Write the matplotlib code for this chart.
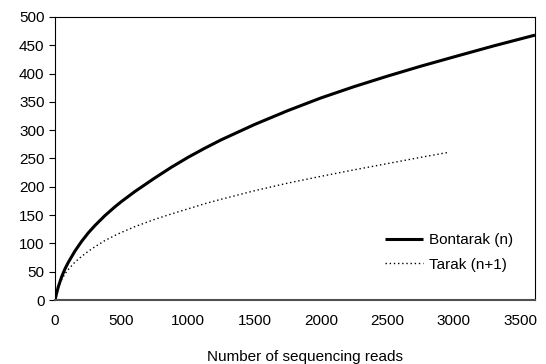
import matplotlib
matplotlib.use('Agg')
import matplotlib.pyplot as plt

bont_x = [0, 10, 25, 50, 75, 100, 150, 200, 250, 300, 375, 450, 500, 600, 750, 875,
          1000, 1125, 1250, 1500, 1750, 2000, 2250, 2500, 2750, 3000, 3300, 3610]
bont_y = [0, 10, 23.5, 41, 55, 66.5, 86.5, 103.5, 118.5, 131.5, 149, 164.5, 174, 191.5, 215.5, 234.5,
          252, 268, 283, 310, 334.5, 357, 377, 395.5, 413, 429.5, 449, 468]
tarak_x = [0, 10, 25, 50, 75, 100, 150, 200, 250, 300, 375, 450, 500, 600, 750, 875,
           1000, 1125, 1250, 1500, 1750, 2000, 2250, 2500, 2750, 2950]
tarak_y = [0, 10, 22, 36, 46, 54, 67, 77, 86, 94, 105, 114, 119.5, 129.5, 142.5, 152,
           161, 170, 178, 193, 206.5, 218.5, 230, 241, 252, 260.5]
labels = ["Bontarak (n)", "Tarak (n+1)"]
xticks = list(range(0, 3501, 500))
yticks = list(range(0, 501, 50))

plt.rcParams['font.family'] = ['Liberation Sans', 'DejaVu Sans']
plt.rcParams['font.size'] = 11

fig = plt.figure(figsize=(5.46, 3.64), dpi=100)
ax = fig.add_axes([55/546, 64/364, 480/546, 283/364])

ax.plot(bont_x, bont_y, color='black', lw=2.2, label=labels[0],
        solid_capstyle='butt', solid_joinstyle='round')
ax.plot(tarak_x, tarak_y, color='black', lw=1.0, ls=(0, (1, 2)), label=labels[1])

ax.set_xlim(0, 3610)
ax.set_ylim(0, 500)
ax.set_xticks(xticks)
ax.set_yticks(yticks)
ax.tick_params(axis='y', direction='out', length=4, width=0.8, pad=3.5)
ax.tick_params(axis='x', length=0, pad=10)
for s in ['top', 'right', 'left']:
    ax.spines[s].set_linewidth(0.8)
    ax.spines[s].set_color('black')
ax.spines['bottom'].set_color('#505050')
ax.spines['bottom'].set_linewidth(1.5)

ax.set_xlabel("Number of sequencing reads")
ax.xaxis.set_label_coords(0.52, -0.175)

ax.legend(loc='upper left', bbox_to_anchor=(0.6875, 0.235), frameon=False,
          borderpad=0, borderaxespad=0, handlelength=2.5, handletextpad=0.4,
          labelspacing=0.67, fontsize=11)

fig.savefig('out.png', dpi=100)
